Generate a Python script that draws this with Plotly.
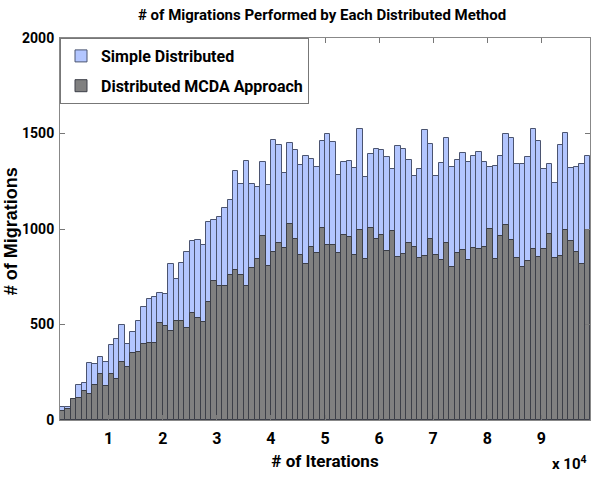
import plotly.graph_objects as go
import numpy as np

# histogram bins of 1000 iterations, first bin starts at 1000
bin_start = 1000
bin_width = 1000

simple_distributed = [
    70, 66, 112, 183, 192, 297, 292, 330, 302, 391, 426, 496, 396, 459,
    517, 590, 632, 644, 665, 658, 815, 736, 820, 878, 937, 941, 914, 1035,
    1045, 1061, 1108, 1152, 1302, 1236, 1354, 1236, 1218, 1349, 1229, 1464, 1440, 1293,
    1450, 1412, 1333, 1384, 1365, 1323, 1462, 1499, 1454, 1281, 1353, 1358, 1319, 1522,
    1271, 1391, 1421, 1412, 1375, 1312, 1433, 1421, 1360, 1276, 1312, 1517, 1447, 1276,
    1344, 1475, 1323, 1360, 1396, 1351, 1384, 1401, 1349, 1325, 1328, 1384, 1496, 1474,
    1339, 1339, 1375, 1522, 1462, 1312, 1339, 1243, 1440, 1501, 1319, 1326, 1339, 1384,
]

mcda_approach = [
    49, 56, 110, 117, 150, 136, 183, 239, 178, 239, 213, 304, 280, 349,
    358, 396, 403, 403, 506, 492, 466, 520, 517, 480, 558, 536, 511, 616,
    726, 702, 703, 757, 784, 757, 703, 796, 845, 963, 806, 878, 925, 901,
    1024, 948, 866, 817, 906, 873, 1003, 916, 916, 873, 967, 956, 866, 993,
    841, 1007, 948, 967, 885, 988, 853, 867, 925, 906, 848, 857, 946, 862,
    838, 928, 801, 873, 888, 838, 902, 897, 906, 1000, 843, 963, 1019, 941,
    848, 801, 832, 894, 853, 894, 974, 850, 857, 995, 939, 878, 815, 995,
]

x_tick_vals = [10000, 20000, 30000, 40000, 50000, 60000, 70000, 80000, 90000]
x_tick_text = ["1", "2", "3", "4", "5", "6", "7", "8", "9"]
y_tick_vals = [0, 500, 1000, 1500, 2000]

centers = bin_start + bin_width / 2 + bin_width * np.arange(len(simple_distributed))

NARROW = "Roboto, DejaVu Sans Condensed, sans-serif"

fig = go.Figure()
fig.add_trace(go.Bar(
    x=centers, y=simple_distributed, width=bin_width,
    name="Simple Distributed", legendgroup="a",
    marker=dict(color="#b3c6ff", line=dict(color="#4b5470", width=1)),
))
fig.add_trace(go.Bar(
    x=centers, y=mcda_approach, width=bin_width,
    name="Distributed MCDA Approach", legendgroup="b",
    marker=dict(color="#808080", line=dict(color="#3c3f48", width=1)),
))

fig.update_layout(
    width=591, height=482,
    margin=dict(l=60, r=1, t=38, b=62),
    barmode="overlay",
    bargap=0,
    plot_bgcolor="white",
    paper_bgcolor="white",
    font=dict(family=NARROW, color="black"),
    title=dict(
        text="# of Migrations Performed by Each Distributed Method",
        x=0.545, xanchor="center", y=0.97, yanchor="middle",
        font=dict(family=NARROW, size=15, weight="bold", color="black"),
    ),
    legend=dict(
        x=0, y=1, xanchor="left", yanchor="top",
        bgcolor="white", bordercolor="#777", borderwidth=1,
        font=dict(family=NARROW, size=16, weight="bold", color="black"),
        tracegroupgap=6,
    ),
    xaxis=dict(
        range=[1000, 99000], automargin=False,
        tickvals=x_tick_vals, ticktext=x_tick_text,
        ticks="inside", ticklen=5, tickcolor="#777",
        ticklabelstandoff=4,
        showline=True, linecolor="#888", linewidth=1, mirror="ticks",
        showgrid=False, zeroline=False,
        tickfont=dict(family=NARROW, size=16, weight="bold"),
        title=dict(text="# of Iterations", standoff=7,
                   font=dict(family=NARROW, size=17, weight="bold")),
    ),
    yaxis=dict(
        range=[0, 2000], automargin=False,
        tickvals=y_tick_vals,
        ticks="inside", ticklen=5, tickcolor="#777",
        ticklabelstandoff=2,
        showline=True, linecolor="#888", linewidth=1, mirror="ticks",
        showgrid=False, zeroline=False,
        tickfont=dict(family=NARROW, size=14, weight="bold"),
    ),
    annotations=[
        dict(
            text="# of Migrations", xref="paper", yref="paper",
            x=-0.092, y=0.495, xanchor="center", yanchor="middle",
            textangle=-90, showarrow=False,
            font=dict(family="Liberation Sans, Arial, sans-serif", size=18, weight="bold"),
        ),
        dict(
            text="x 10<sup>4</sup>", xref="paper", yref="paper",
            x=0.998, y=-0.145, xanchor="right", yanchor="bottom", showarrow=False,
            font=dict(family=NARROW, size=15, weight="bold"),
        ),
    ],
)

fig.write_html("out.html", config={"displayModeBar": False},
               post_script="document.body.style.margin='0';")
